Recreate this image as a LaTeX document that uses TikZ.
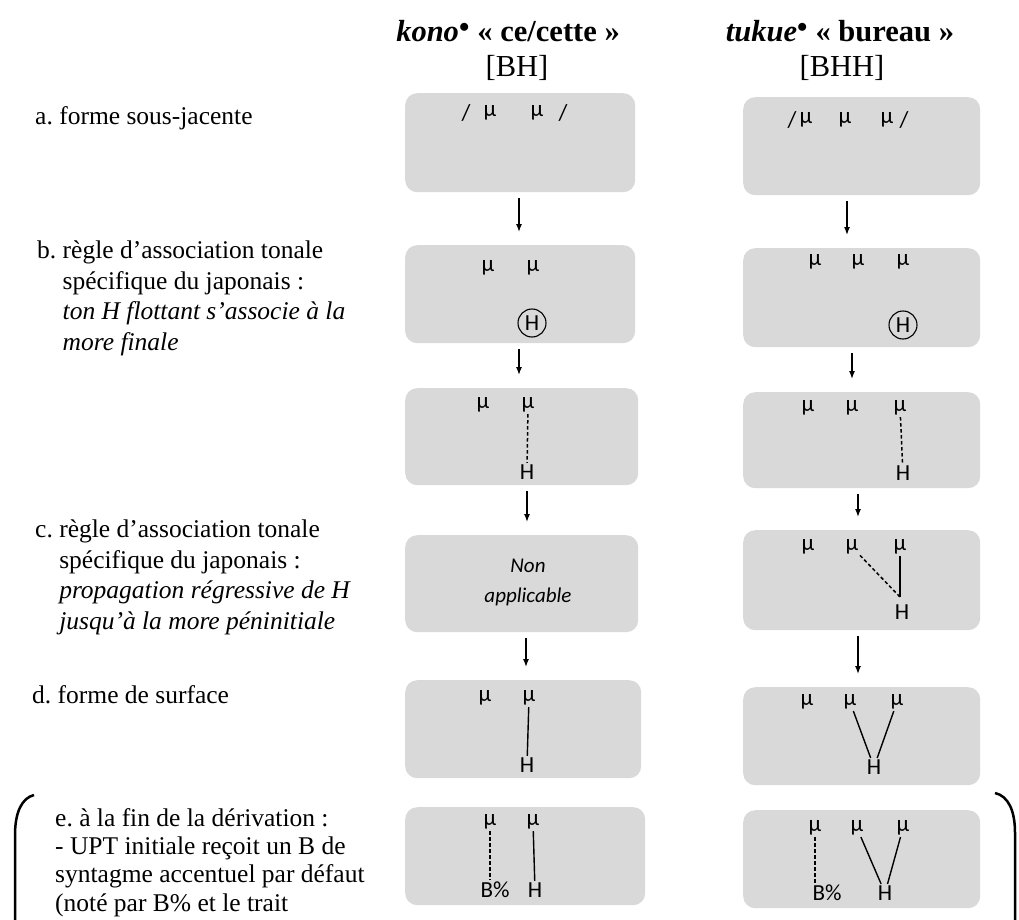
\documentclass[tikz,border=0pt]{standalone}
\usepackage{fontspec}
\setmainfont{Liberation Serif}
\newfontfamily\boxfont{Carlito}
\usetikzlibrary{arrows.meta,positioning}
\definecolor{boxgray}{HTML}{D9D9D9}
\frenchspacing

\begin{document}
\begin{tikzpicture}[x=1pt,y=-1pt,>={Latex[length=8pt,width=6pt]},
  stagebox/.style={fill=boxgray,rounded corners=12pt,anchor=north west,inner sep=0pt},
  tone/.style={font=\boxfont\fontsize{23}{25}\selectfont,inner sep=1.5pt},
  floattone/.style={tone,circle,draw,line width=1.1pt,minimum size=28pt,inner sep=0pt},
  lbl/.style={anchor=north west,align=left,inner sep=0pt,font=\fontsize{25.5}{30.5}\selectfont},
  head/.style={inner sep=0pt,font=\bfseries\fontsize{30.5}{34}\selectfont},
  headtone/.style={inner sep=0pt,font=\fontsize{30.5}{34}\selectfont},
  flow/.style={->,line width=1.3pt,shorten <=6pt,shorten >=13pt},
  assoc/.style={line width=1.4pt},
  newassoc/.style={line width=1.5pt,dash pattern=on 3.5pt off 2.5pt}]
  \useasboundingbox (0,0) rectangle (1019,920);

  % column heads
  \node[head] (hk) at (508,31) {\textit{kono}$^{\bullet}$ «~ce/cette~»};
  \node[headtone] (hkt) at (517,68) {[BH]};
  \node[head] (ht) at (840,31) {\textit{tukue}$^{\bullet}$ «~bureau~»};
  \node[headtone] (htt) at (842,68) {[BHH]};

  % stage labels
  \node[lbl] (la) at (35,106) {a. forme sous-jacente};
  \node[lbl] (lb) at (37,241) {b. règle d’association tonale\\\phantom{b. }spécifique du japonais :\\
    \phantom{b. }\textit{ton H flottant s’associe à la}\\\phantom{b. }\textit{more finale}};
  \node[lbl] (lc) at (35,520) {c. règle d’association tonale\\\phantom{c. }spécifique du japonais :\\
    \phantom{c. }\textit{propagation régressive de H}\\\phantom{c. }\textit{jusqu’à la more péninitiale}};
  \node[lbl] (ld) at (32,685) {d. forme de surface};
  \node[lbl,font=\fontsize{25.5}{28.3}\selectfont] (le) at (55,808) {e. à la fin de la dérivation :\\
    - UPT initiale reçoit un B de\\syntagme accentuel par défaut\\(noté par B\% et le trait};

  % stage boxes, kono
  \node[stagebox,minimum width=230pt,minimum height=99pt] (ka) at (405,93) {};
  \node[stagebox,minimum width=230pt,minimum height=98pt] (kb) at (405,245) {};
  \node[stagebox,minimum width=233pt,minimum height=97pt] (kbb) at (405,388) {};
  \node[stagebox,minimum width=233pt,minimum height=97pt] (kc) at (405,535) {};
  \node[stagebox,minimum width=236pt,minimum height=98pt] (kd) at (405,680) {};
  \node[stagebox,minimum width=240pt,minimum height=98pt] (ke) at (405,807) {};
  % stage boxes, tukue
  \node[stagebox,minimum width=237pt,minimum height=98pt] (ta) at (743,97) {};
  \node[stagebox,minimum width=237pt,minimum height=99pt] (tb) at (743,248) {};
  \node[stagebox,minimum width=237pt,minimum height=96pt] (tbb) at (743,392) {};
  \node[stagebox,minimum width=237pt,minimum height=100pt] (tc) at (743,530) {};
  \node[stagebox,minimum width=237pt,minimum height=98pt] (td) at (743,687) {};
  \node[stagebox,minimum width=237pt,minimum height=98pt] (te) at (743,810) {};

  % derivation steps
  \draw[flow] (ka.south -| 519,0) -- (kb.north -| 519,0);
  \draw[flow] (kb.south -| 519,0) -- (kbb.north -| 519,0);
  \draw[flow] (kbb.south -| 527,0) -- (kc.north -| 527,0);
  \draw[flow] (kc.south -| 526,0) -- (kd.north -| 526,0);
  \draw[flow] (ta.south -| 847,0) -- (tb.north -| 847,0);
  \draw[flow] (tb.south -| 852,0) -- (tbb.north -| 852,0);
  \draw[flow] (tbb.south -| 858,0) -- (tc.north -| 858,0);
  \draw[flow] (tc.south -| 858,0) -- (td.north -| 858,0);

  % kono
  \node[tone] (ka0) at (466,113) {/};
  \node[tone] (ka1) at (490,113) {μ};
  \node[tone] (ka2) at (537,113) {μ};
  \node[tone] (ka3) at (563,113) {/};
  \node[tone] (kb1) at (488,268) {μ};
  \node[tone] (kb2) at (533,268) {μ};
  \node[floattone] (kbh) at (532,323) {H};
  \node[tone] (kbb1) at (483,405) {μ};
  \node[tone] (kbb2) at (528,405) {μ};
  \node[tone] (kbbh) at (527,472) {H};
  \draw[newassoc] (kbb2) -- (kbbh);
  \node[tone,align=center,font=\boxfont\itshape\fontsize{21}{30}\selectfont] (kcn) at (528,582) {Non\\applicable};
  \node[tone] (kd1) at (485,698) {μ};
  \node[tone] (kd2) at (529,698) {μ};
  \node[tone] (kdh) at (527,765) {H};
  \draw[assoc] (kd2) -- (kdh);
  \node[tone] (ke1) at (490,822) {μ};
  \node[tone] (ke2) at (533,822) {μ};
  \node[tone] (keb) at (495,890) {B\%};
  \node[tone] (keh) at (535,890) {H};
  \draw[newassoc] (ke1) -- (ke1 |- keb.north);
  \draw[assoc] (ke2) -- (keh);

  % tukue
  \node[tone] (ta0) at (792,120) {/};
  \node[tone] (ta1) at (806,120) {μ};
  \node[tone] (ta2) at (845,120) {μ};
  \node[tone] (ta3) at (887,120) {μ};
  \node[tone] (ta4) at (904,120) {/};
  \node[tone] (tb1) at (815,262) {μ};
  \node[tone] (tb2) at (858,262) {μ};
  \node[tone] (tb3) at (903,262) {μ};
  \node[floattone] (tbh) at (903,325) {H};
  \node[tone] (tbb1) at (808,408) {μ};
  \node[tone] (tbb2) at (852,408) {μ};
  \node[tone] (tbb3) at (900,408) {μ};
  \node[tone] (tbbh) at (903,473) {H};
  \draw[newassoc] (tbb3) -- (tbbh);
  \node[tone] (tc1) at (808,547) {μ};
  \node[tone] (tc2) at (852,547) {μ};
  \node[tone] (tc3) at (900,547) {μ};
  \node[tone] (tch) at (902,612) {H};
  \coordinate (tcj) at (900,597);
  \draw[assoc] (tc3) -- (tcj);
  \draw[newassoc] (tc2) -- (tcj);
  \node[tone] (td1) at (807,702) {μ};
  \node[tone] (td2) at (850,702) {μ};
  \node[tone] (td3) at (897,702) {μ};
  \node[tone] (tdh) at (874,767) {H};
  \draw[assoc] (td2) -- (tdh);
  \draw[assoc] (td3) -- (tdh);
  \node[tone] (te1) at (815,828) {μ};
  \node[tone] (te2) at (857,828) {μ};
  \node[tone] (te3) at (903,828) {μ};
  \node[tone] (teb) at (827,893) {B\%};
  \node[tone] (teh) at (885,893) {H};
  \draw[newassoc] (te1) -- (te1 |- teb.north);
  \draw[assoc] (te2) -- (teh);
  \draw[assoc] (te3) -- (teh);

  % brackets round e
  \draw[line width=2.5pt] (34,795) .. controls (22,798) and (15,812) .. (15,835) -- (15,925);
  \draw[line width=2.5pt] (995,793) .. controls (1008,796) and (1015,810) .. (1015,833) -- (1015,925);
\end{tikzpicture}
\end{document}
